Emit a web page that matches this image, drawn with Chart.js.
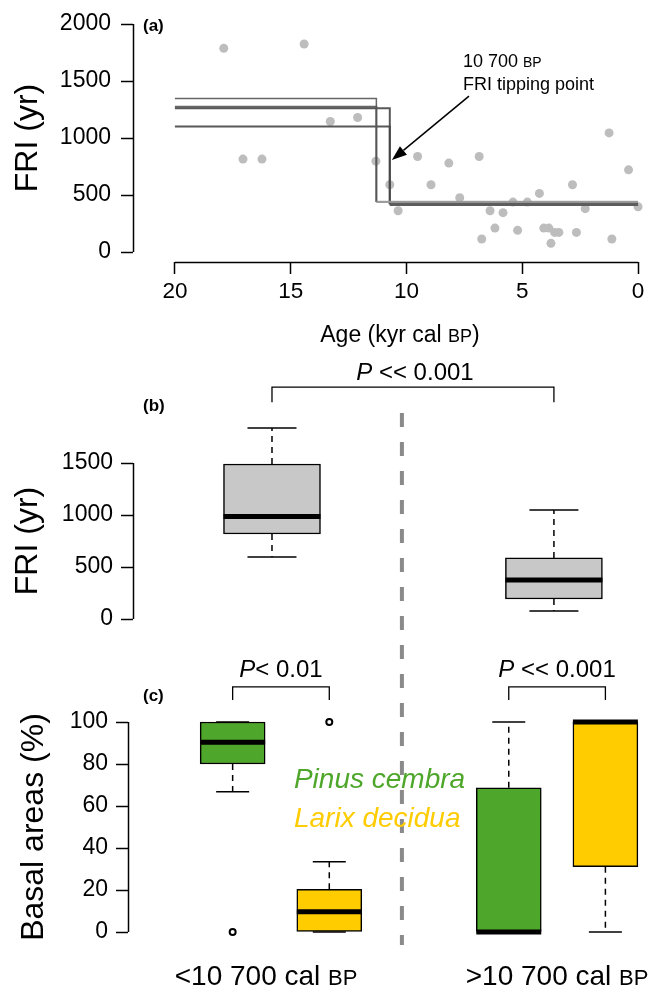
<!DOCTYPE html>
<html><head><meta charset="utf-8">
<script src="https://cdn.jsdelivr.net/npm/chart.js@4.4.1/dist/chart.umd.min.js"></script>
<style>
html,body{margin:0;padding:0;background:#fff;}
#wrap{position:relative;width:654px;height:987px;overflow:hidden;}
canvas{position:absolute;left:0;top:0;}
</style></head><body>
<div id="wrap">
<canvas id="ca" width="654" height="987"></canvas>
<canvas id="cb" width="654" height="987"></canvas>
<canvas id="cc" width="654" height="987"></canvas>
</div>
<script>
// ---------------- DATA ----------------
// Panel (a): fire return intervals vs age
const ages = [17.89,14.42,17.06,16.24,13.29,12.11,11.32,10.72,10.36,9.52,8.94,8.17,7.70,6.86,6.75,6.39,6.18,5.83,5.40,5.20,4.78,4.26,4.07,3.85,3.76,3.60,3.42,2.83,2.66,2.28,1.25,1.13,0.41,0.00];
const fri  = [1787,1825,815,815,1145,1180,797,590,362,838,590,780,476,838,114,362,210,345,438,190,438,514,210,210,76,172,172,590,172,380,1045,114,721,397];
const stepStart  = 20;
const stepEnd    = 0;
const stepBreak  = [11.3, 11.3, 10.72, 10.72];
const stepBefore = [1346, 1275, 1262, 1100];
const stepAfter  = [440, 438, 418, 418];
const ageTicks   = [20, 15, 10, 5, 0];
const friTicksA  = [0, 500, 1000, 1500, 2000];

// Panel (b): FRI box plots
const periods = ['<10 700 cal BP', '>10 700 cal BP'];
const friLow   = [596, 77];
const friQ1    = [817, 192];
const friMed   = [985, 375];
const friQ3    = [1490, 587];
const friHigh  = [1837, 1048];
const friTicksB = [0, 500, 1000, 1500];
const pValueB = '<< 0.001';

// Panel (c): basal areas box plots
const species = ['Pinus cembra', 'Larix decidua'];
const pinusLow  = [66.8, 0];
const pinusQ1   = [80, 0];
const pinusMed  = [90.3, 0];
const pinusQ3   = [100, 68.7];
const pinusHigh = [100, 100];
const pinusOut  = [[0], []];
const larixLow  = [0, 0];
const larixQ1   = [0, 31.1];
const larixMed  = [9.7, 100];
const larixQ3   = [20.3, 100];
const larixHigh = [33.5, 100];
const larixOut  = [[100], []];
const basalTicks = [0, 20, 40, 60, 80, 100];
const pValuesC = ['< 0.01', '<< 0.001'];

// ---------------- STYLE ----------------
const FONT = '"Liberation Sans", Arial, Helvetica, sans-serif';
const F = (s, st) => (st ? st + ' ' : '') + s + 'px ' + FONT;
const GREEN = '#4EA72A', YELLOW = '#FFCC00', BOXGRAY = '#C8C8C8';
Chart.defaults.font.family = FONT;
Chart.defaults.color = '#000';
Chart.defaults.animation = false;
Chart.defaults.events = [];
Chart.defaults.plugins.legend.display = false;
Chart.defaults.plugins.tooltip.enabled = false;

function rich(ctx, parts, x, y, align) {
  let w = 0;
  const ms = parts.map(p => { ctx.font = p.f; const m = ctx.measureText(p.t).width; w += m; return m; });
  let cx = align === 'center' ? x - w / 2 : x;
  ctx.textAlign = 'left'; ctx.textBaseline = 'alphabetic';
  parts.forEach((p, i) => { ctx.font = p.f; ctx.fillStyle = p.c || '#000'; ctx.fillText(p.t, cx, y); cx += ms[i]; });
}
function splitBP(s, big, small, color) {
  const i = s.lastIndexOf('BP');
  if (i < 0) return [{t: s, f: big, c: color}];
  return [{t: s.slice(0, i), f: big, c: color}, {t: 'BP', f: small, c: color}, {t: s.slice(i + 2), f: big, c: color}];
}

function yAxis(o) {
  return {
    type: 'linear', position: 'left', min: o.min, max: o.max, bounds: 'data',
    afterFit: s => { s.width = o.width; s.paddingTop = 0; s.paddingBottom = 0; },
    afterBuildTicks: s => { s.ticks = o.ticks.map(v => ({value: v})); },
    border: {display: false},
    grid: {drawOnChartArea: false, drawTicks: true, tickLength: 12, tickColor: '#000', tickWidth: 1.5, color: '#000'},
    ticks: {autoSkip: false, padding: o.pad, font: {size: 23}, color: '#000', callback: v => String(v)},
    title: {display: true, text: o.title, font: {size: 32}, color: '#000', padding: {top: o.titlePad, bottom: 0}}
  };
}

function boxDatasets(xs, low, q1, med, q3, high, colors, width, capR, outs) {
  const ds = [];
  ds.push({type: 'bar', data: xs.map((x, i) => ({x: x, y: [q1[i], q3[i]]})),
    backgroundColor: colors, borderColor: '#000', borderWidth: 1.5, borderSkipped: false,
    barThickness: width, order: 2, clip: false});
  xs.forEach((x, i) => {
    [[q3[i], high[i]], [q1[i], low[i]]].forEach(([a, b]) => {
      ds.push({type: 'line', data: [{x: x, y: a}, {x: x, y: b}], borderColor: '#000', borderWidth: 1.5,
        borderDash: [6, 5], pointRadius: 0, order: 3, clip: false});
    });
  });
  ds.push({type: 'scatter', data: xs.flatMap((x, i) => [{x: x, y: low[i]}, {x: x, y: high[i]}]),
    pointStyle: 'line', pointRadius: capR, pointBorderWidth: 1.5, pointBorderColor: '#000', order: 1, clip: false});
  ds.push({type: 'scatter', data: xs.map((x, i) => ({x: x, y: med[i]})),
    pointStyle: 'line', pointRadius: width / 2, pointBorderWidth: 5, pointBorderColor: '#000', order: 0, clip: false});
  const od = [];
  xs.forEach((x, i) => (outs[i] || []).forEach(v => od.push({x: x, y: v})));
  if (od.length) ds.push({type: 'scatter', data: od, pointStyle: 'circle', pointRadius: 3,
    pointBorderWidth: 2, pointBorderColor: '#000', pointBackgroundColor: '#fff', order: 0, clip: false});
  return ds;
}

// ---------------- PANEL (a) ----------------
const stepDatasets = stepBreak.map((br, i) => ({
  type: 'scatter', showLine: true, pointRadius: 0, order: 0, clip: false,
  data: [{x: stepStart, y: stepBefore[i]}, {x: br, y: stepBefore[i]}, {x: br, y: stepAfter[i]}, {x: stepEnd, y: stepAfter[i]}],
  borderColor: i < 2 ? 'rgba(85,85,85,0.9)' : 'rgba(70,70,70,0.9)',
  borderWidth: i === 0 ? 1.5 : 2,
  segment: {
    borderWidth: c => c.p0DataIndex === 2 ? (i < 2 ? 2 : 3.5) : undefined,
    borderColor: c => c.p0DataIndex === 2 ? (i < 2 ? 'rgba(150,150,150,0.8)' : 'rgba(90,90,90,0.85)') : undefined
  }
}));
const pointsDataset = {type: 'scatter', order: 1, clip: false,
  data: ages.map((a, i) => ({x: a, y: fri[i]})),
  pointRadius: 4.5, pointBackgroundColor: '#BDBDBD', pointBorderWidth: 0};

const arrowTail = {x: 7.3, y: 1368}, arrowTip = {x: 10.63, y: 807};
const noteAt = {x: 7.56, y1: 1623, y2: 1421};

const panelA = {id: 'panelA', afterDraw(chart) {
  const {ctx, chartArea: ca, scales: {x, y}} = chart;
  ctx.save();
  ctx.strokeStyle = '#000'; ctx.lineWidth = 1.5;
  ctx.beginPath();
  ctx.moveTo(ca.left + 0.5, y.getPixelForValue(friTicksA[0]));
  ctx.lineTo(ca.left + 0.5, y.getPixelForValue(friTicksA[friTicksA.length - 1]));
  ctx.moveTo(x.getPixelForValue(ageTicks[0]), ca.bottom + 0.5);
  ctx.lineTo(x.getPixelForValue(ageTicks[ageTicks.length - 1]), ca.bottom + 0.5);
  ctx.stroke();
  ctx.font = F(17, 'bold'); ctx.fillStyle = '#000'; ctx.textAlign = 'left'; ctx.textBaseline = 'alphabetic';
  ctx.fillText('(a)', 143, 31);
  rich(ctx, splitBP('Age (kyr cal BP)', F(23), F(18)), 400, 342, 'center');
  const tx = x.getPixelForValue(arrowTail.x), ty = y.getPixelForValue(arrowTail.y);
  const hx = x.getPixelForValue(arrowTip.x), hy = y.getPixelForValue(arrowTip.y);
  const ang = Math.atan2(hy - ty, hx - tx), L = 15, W = 5.5;
  const bx = hx - L * Math.cos(ang), by = hy - L * Math.sin(ang);
  ctx.lineWidth = 1.5;
  ctx.beginPath(); ctx.moveTo(tx, ty); ctx.lineTo(bx, by); ctx.stroke();
  ctx.beginPath(); ctx.moveTo(hx, hy);
  ctx.lineTo(bx + W * Math.sin(ang), by - W * Math.cos(ang));
  ctx.lineTo(bx - W * Math.sin(ang), by + W * Math.cos(ang));
  ctx.closePath(); ctx.fillStyle = '#000'; ctx.fill();
  const nx = x.getPixelForValue(noteAt.x);
  rich(ctx, splitBP('10 700 BP', F(18), F(14)), nx, y.getPixelForValue(noteAt.y1), 'left');
  rich(ctx, [{t: 'FRI tipping point', f: F(18)}], nx, y.getPixelForValue(noteAt.y2), 'left');
  ctx.restore();
}};

new Chart(document.getElementById('ca'), {
  type: 'scatter',
  data: {datasets: [...stepDatasets, pointsDataset]},
  options: {
    responsive: false, animation: false,
    layout: {autoPadding: false, padding: {top: 14, right: 0, bottom: 647, left: 0}},
    scales: {
      x: {type: 'linear', position: 'bottom', reverse: true, min: -0.69, max: 21.81, bounds: 'data',
        afterFit: s => { s.height = 78; s.paddingLeft = 0; s.paddingRight = 0; },
        afterBuildTicks: s => { s.ticks = ageTicks.map(v => ({value: v})); },
        border: {display: false},
        grid: {drawOnChartArea: false, drawTicks: true, tickLength: 12, tickColor: '#000', tickWidth: 1.5},
        ticks: {autoSkip: false, maxRotation: 0, padding: 4, font: {size: 22.5}, color: '#000', callback: v => String(v)}},
      y: yAxis({min: -87.7, max: 2088, width: 133, ticks: friTicksA, pad: 10, title: 'FRI (yr)', titlePad: 9})
    }
  },
  plugins: [panelA]
});

// ---------------- PANEL (b) ----------------
const bXs = periods.map((_, i) => i + 1);
const bracketB = {y: 2230, yTick: 2085, yText: 2298};
const panelB = {id: 'panelB', afterDraw(chart) {
  const {ctx, chartArea: ca, scales: {x, y}} = chart;
  ctx.save();
  ctx.strokeStyle = '#000'; ctx.lineWidth = 1.5;
  ctx.beginPath();
  ctx.moveTo(ca.left + 0.5, y.getPixelForValue(friTicksB[0]));
  ctx.lineTo(ca.left + 0.5, y.getPixelForValue(friTicksB[friTicksB.length - 1]));
  ctx.stroke();
  ctx.font = F(17, 'bold'); ctx.fillStyle = '#000'; ctx.textAlign = 'left'; ctx.textBaseline = 'alphabetic';
  ctx.fillText('(b)', 143, 411);
  const x1 = x.getPixelForValue(bXs[0]), x2 = x.getPixelForValue(bXs[1]);
  const by = y.getPixelForValue(bracketB.y), bt = y.getPixelForValue(bracketB.yTick);
  ctx.lineWidth = 1.3;
  ctx.beginPath(); ctx.moveTo(x1, bt); ctx.lineTo(x1, by); ctx.lineTo(x2, by); ctx.lineTo(x2, bt); ctx.stroke();
  rich(ctx, [{t: 'P', f: F(24, 'italic')}, {t: ' ' + pValueB, f: F(24)}], (x1 + x2) / 2 + 2, y.getPixelForValue(bracketB.yText), 'center');
  ctx.restore();
}};
new Chart(document.getElementById('cb'), {
  type: 'bar',
  data: {datasets: boxDatasets(bXs, friLow, friQ1, friMed, friQ3, friHigh, [BOXGRAY, BOXGRAY], 97, 24.5, [[], []])},
  options: {
    responsive: false, animation: false,
    layout: {autoPadding: false, padding: {top: 411, right: 0, bottom: 316, left: 0}},
    scales: {
      x: {type: 'linear', display: false, min: 0.507, max: 2.355, offset: false, bounds: 'data'},
      y: yAxis({min: -500, max: 2000, width: 133, ticks: friTicksB, pad: 8, title: 'FRI (yr)', titlePad: 9})
    }
  },
  plugins: [panelB]
});

// ---------------- PANEL (c) ----------------
const spOff = 0.175;
const cPinusXs = periods.map((_, i) => i + 1 - spOff);
const cLarixXs = periods.map((_, i) => i + 1 + spOff);
const bracketC = {y: 116.7, yTick: 110.5, yText: 121.4};
const dividerC = {x: 1.438, yTop: 247.1, yBottom: -6.2};
const legendC = {x: 1.047, y: [68.6, 50]};
const catLabelC = {x: [0.946, 2.0], y: -25.2};
const panelC = {id: 'panelC', afterDraw(chart) {
  const {ctx, chartArea: ca, scales: {x, y}} = chart;
  ctx.save();
  ctx.strokeStyle = '#000'; ctx.lineWidth = 1.5;
  ctx.beginPath();
  ctx.moveTo(ca.left + 0.5, y.getPixelForValue(basalTicks[0]));
  ctx.lineTo(ca.left + 0.5, y.getPixelForValue(basalTicks[basalTicks.length - 1]));
  ctx.stroke();
  ctx.font = F(17, 'bold'); ctx.fillStyle = '#000'; ctx.textAlign = 'left'; ctx.textBaseline = 'alphabetic';
  ctx.fillText('(c)', 143, 701);
  const dx = x.getPixelForValue(dividerC.x);
  ctx.strokeStyle = '#8A8A8A'; ctx.lineWidth = 4; ctx.setLineDash([14, 15]);
  ctx.beginPath(); ctx.moveTo(dx, y.getPixelForValue(dividerC.yTop)); ctx.lineTo(dx, y.getPixelForValue(dividerC.yBottom)); ctx.stroke();
  ctx.setLineDash([]);
  ctx.strokeStyle = '#000'; ctx.lineWidth = 1.3;
  const by = y.getPixelForValue(bracketC.y), bt = y.getPixelForValue(bracketC.yTick);
  periods.forEach((_, i) => {
    const x1 = x.getPixelForValue(cPinusXs[i]), x2 = x.getPixelForValue(cLarixXs[i]);
    ctx.beginPath(); ctx.moveTo(x1, bt); ctx.lineTo(x1, by); ctx.lineTo(x2, by); ctx.lineTo(x2, bt); ctx.stroke();
    const sp = pValuesC[i].startsWith('<<') ? ' ' : '';
    rich(ctx, [{t: 'P', f: F(24, 'italic')}, {t: sp + pValuesC[i], f: F(24)}], (x1 + x2) / 2, y.getPixelForValue(bracketC.yText), 'center');
  });
  const lx = x.getPixelForValue(legendC.x);
  [GREEN, YELLOW].forEach((c, i) => {
    rich(ctx, [{t: species[i], f: F(28, 'italic'), c: c}], lx, y.getPixelForValue(legendC.y[i]), 'left');
  });
  periods.forEach((p, i) => {
    rich(ctx, splitBP(p, F(28), F(22)), x.getPixelForValue(catLabelC.x[i]), y.getPixelForValue(catLabelC.y), 'center');
  });
  ctx.restore();
}};
const cXs = [...cPinusXs, ...cLarixXs];
new Chart(document.getElementById('cc'), {
  type: 'bar',
  data: {datasets: boxDatasets(cXs,
    [...pinusLow, ...larixLow], [...pinusQ1, ...larixQ1], [...pinusMed, ...larixMed],
    [...pinusQ3, ...larixQ3], [...pinusHigh, ...larixHigh],
    [GREEN, GREEN, YELLOW, YELLOW], 65, 16.5, [...pinusOut, ...larixOut])},
  options: {
    responsive: false, animation: false,
    layout: {autoPadding: false, padding: {top: 701, right: 0, bottom: 34, left: 0}},
    scales: {
      x: {type: 'linear', display: false, min: 0.446, max: 2.351, offset: false, bounds: 'data'},
      y: yAxis({min: -10, max: 110, width: 128, ticks: basalTicks, pad: 8, title: 'Basal areas (%)', titlePad: 15})
    }
  },
  plugins: [panelC]
});
</script>
</body></html>
